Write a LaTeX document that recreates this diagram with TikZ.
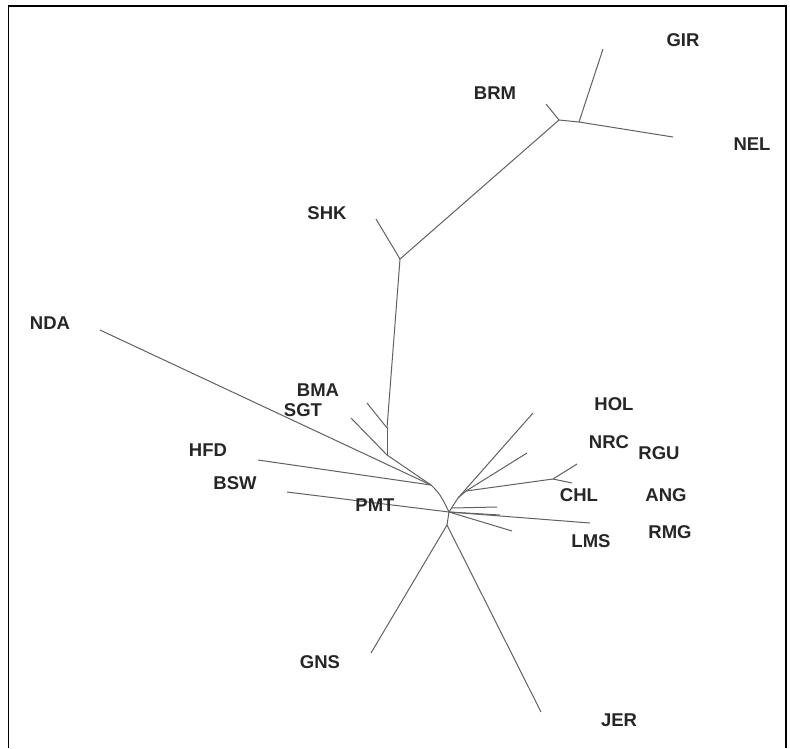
\documentclass[tikz,border=0pt]{standalone}
\usepackage{fontspec}
\setmainfont{Liberation Sans}
\begin{document}
\begin{tikzpicture}[x=1pt,y=-1pt,
  branch/.style={draw=black!62, line width=1pt},
  lab/.style={font=\fontsize{18.5}{20}\selectfont\bfseries, text=black!85, inner sep=0pt},
  frame/.style={draw=black, line width=1.6pt}]
\useasboundingbox (0,0) rectangle (790,748);
\fill[white] (0,0) rectangle (790,748);
% frame (bottom open)
\coordinate (fbl) at (8.5,748);
\coordinate (ftl) at (8.5,6);
\coordinate (ftr) at (786,6);
\coordinate (fbr) at (786,748);
\draw[frame] (fbl) -- (ftl) -- (ftr) -- (fbr);
% tips
\coordinate (GIRt) at (603,49);
\coordinate (NELt) at (673,137);
\coordinate (BRMt) at (546,104);
\coordinate (SHKt) at (376,219);
\coordinate (BMAt) at (367,403);
\coordinate (SGTt) at (351,418);
\coordinate (NDAt) at (100,330);
\coordinate (HFDt) at (258,460);
\coordinate (BSWt) at (287,492);
\coordinate (GNSt) at (371,653);
\coordinate (JERt) at (541,712);
\coordinate (HOLt) at (533,413);
\coordinate (NRCt) at (527,453);
\coordinate (RGUt) at (577,464);
\coordinate (CHLt) at (572,483);
\coordinate (ANGt) at (497,507);
\coordinate (RMGt) at (500,515);
\coordinate (LMSt) at (590,523);
\coordinate (PMTt) at (512,531);
% inner nodes
\coordinate (n1) at (559,120);
\coordinate (n2) at (579,122);
\coordinate (n3) at (400,259);
\coordinate (n4) at (387,428);
\coordinate (n5) at (387,455);
\coordinate (n6) at (431,485);
\coordinate (C) at (449,512);
\coordinate (c1) at (452,508);
\coordinate (n9) at (447,525);
\coordinate (n10) at (458,498);
\coordinate (n11) at (466,491);
\coordinate (n12) at (553,479);
% branches
\draw[branch] (BRMt) -- (n1);
\draw[branch] (n1) -- (n2);
\draw[branch] (n2) -- (GIRt);
\draw[branch] (n2) -- (NELt);
\draw[branch] (n1) -- (n3);
\draw[branch] (n3) -- (SHKt);
\draw[branch] (n3) -- (n4);
\draw[branch] (n4) -- (BMAt);
\draw[branch] (n4) -- (n5);
\draw[branch] (n5) -- (SGTt);
\draw[branch] (n5) -- (n6);
\draw[branch] (NDAt) -- (n6);
\draw[branch] (HFDt) -- (n6);
\draw[branch] (n6) .. controls (440,494) .. (C);
\draw[branch] (BSWt) -- (C);
\draw[branch] (C) -- (n9);
\draw[branch] (n9) -- (GNSt);
\draw[branch] (n9) -- (JERt);
\draw[branch] (C) -- (n10);
\draw[branch] (n10) -- (HOLt);
\draw[branch] (n10) -- (n11);
\draw[branch] (n11) -- (NRCt);
\draw[branch] (n11) -- (n12);
\draw[branch] (n12) -- (RGUt);
\draw[branch] (n12) -- (CHLt);
\draw[branch] (c1) -- (ANGt);
\draw[branch] (C) -- (RMGt);
\draw[branch] (C) -- (LMSt);
\draw[branch] (C) -- (PMTt);
% labels
\node[lab] (GIR) at (683,40) {GIR};
\node[lab] (BRM) at (495,93) {BRM};
\node[lab] (NEL) at (752,144) {NEL};
\node[lab] (SHK) at (327,213) {SHK};
\node[lab] (NDA) at (50,323) {NDA};
\node[lab] (BMA) at (318,390) {BMA};
\node[lab] (SGT) at (303,410) {SGT};
\node[lab] (HFD) at (208,450) {HFD};
\node[lab] (BSW) at (235,483) {BSW};
\node[lab] (PMT) at (375,505) {PMT};
\node[lab] (HOL) at (614,404) {HOL};
\node[lab] (NRC) at (609,442) {NRC};
\node[lab] (RGU) at (659,453) {RGU};
\node[lab] (CHL) at (579,495) {CHL};
\node[lab] (ANG) at (666,495) {ANG};
\node[lab] (RMG) at (670,532) {RMG};
\node[lab] (LMS) at (591,541) {LMS};
\node[lab] (GNS) at (320,662) {GNS};
\node[lab] (JER) at (619,720) {JER};
\end{tikzpicture}
\end{document}
